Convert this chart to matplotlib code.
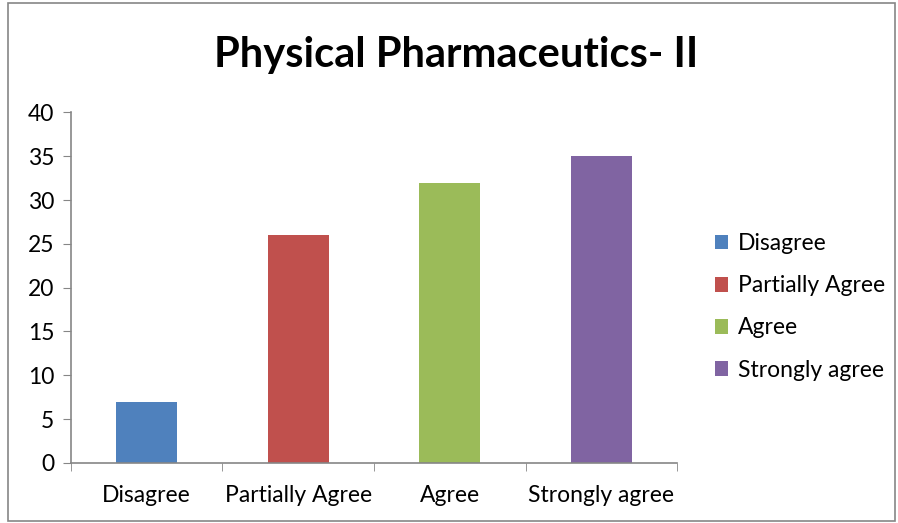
import matplotlib

matplotlib.use("Agg")
import matplotlib.pyplot as plt
from matplotlib.patches import Rectangle

categories = ["Disagree", "Partially Agree", "Agree", "Strongly agree"]
values = [7, 26, 32, 35]
colors = ["#4f81bd", "#c0504d", "#9bbb59", "#8064a2"]
yticks = [0, 5, 10, 15, 20, 25, 30, 35, 40]

plt.rcParams["font.family"] = ["Lato", "DejaVu Sans"]

fig = plt.figure(figsize=(8.98, 5.23), dpi=100)
ax = fig.add_axes([0.079, 0.115, 0.675, 0.670])

xs = range(len(categories))
bars = ax.bar(xs, values, width=0.4, color=colors, label=categories, zorder=2)

ax.set_xlim(-0.5, len(categories) - 0.5)
ax.set_ylim(0, 40)
ax.set_yticks(yticks)
ax.set_xticks(list(xs))
ax.set_xticklabels(categories, fontsize=16.5)
ax.tick_params(axis="x", length=0, pad=16)
ax.set_xticks([i - 0.5 for i in range(len(categories) + 1)], minor=True)
ax.tick_params(axis="x", which="minor", length=6, direction="out", color="#868686")
ax.tick_params(axis="y", labelsize=16.5, length=6, color="#868686", pad=6)
for s in ("top", "right"):
    ax.spines[s].set_visible(False)
for s in ("left", "bottom"):
    ax.spines[s].set_color("#868686")
    ax.spines[s].set_linewidth(1.2)

fig.suptitle("Physical Pharmaceutics- II", x=0.508, y=0.932, fontsize=30,
             fontweight="bold")

ax.legend(handles=bars, labels=categories, loc="center left",
          bbox_to_anchor=(1.028, 0.445), frameon=False, fontsize=16.5,
          handlelength=0.6, handleheight=0.6, handletextpad=0.4,
          labelspacing=0.92)

fig.patches.append(Rectangle((0.009, 0.004), 0.988, 0.99, transform=fig.transFigure,
                             fill=False, edgecolor="#868686", lw=1.2))

fig.savefig("out.png", dpi=100)
